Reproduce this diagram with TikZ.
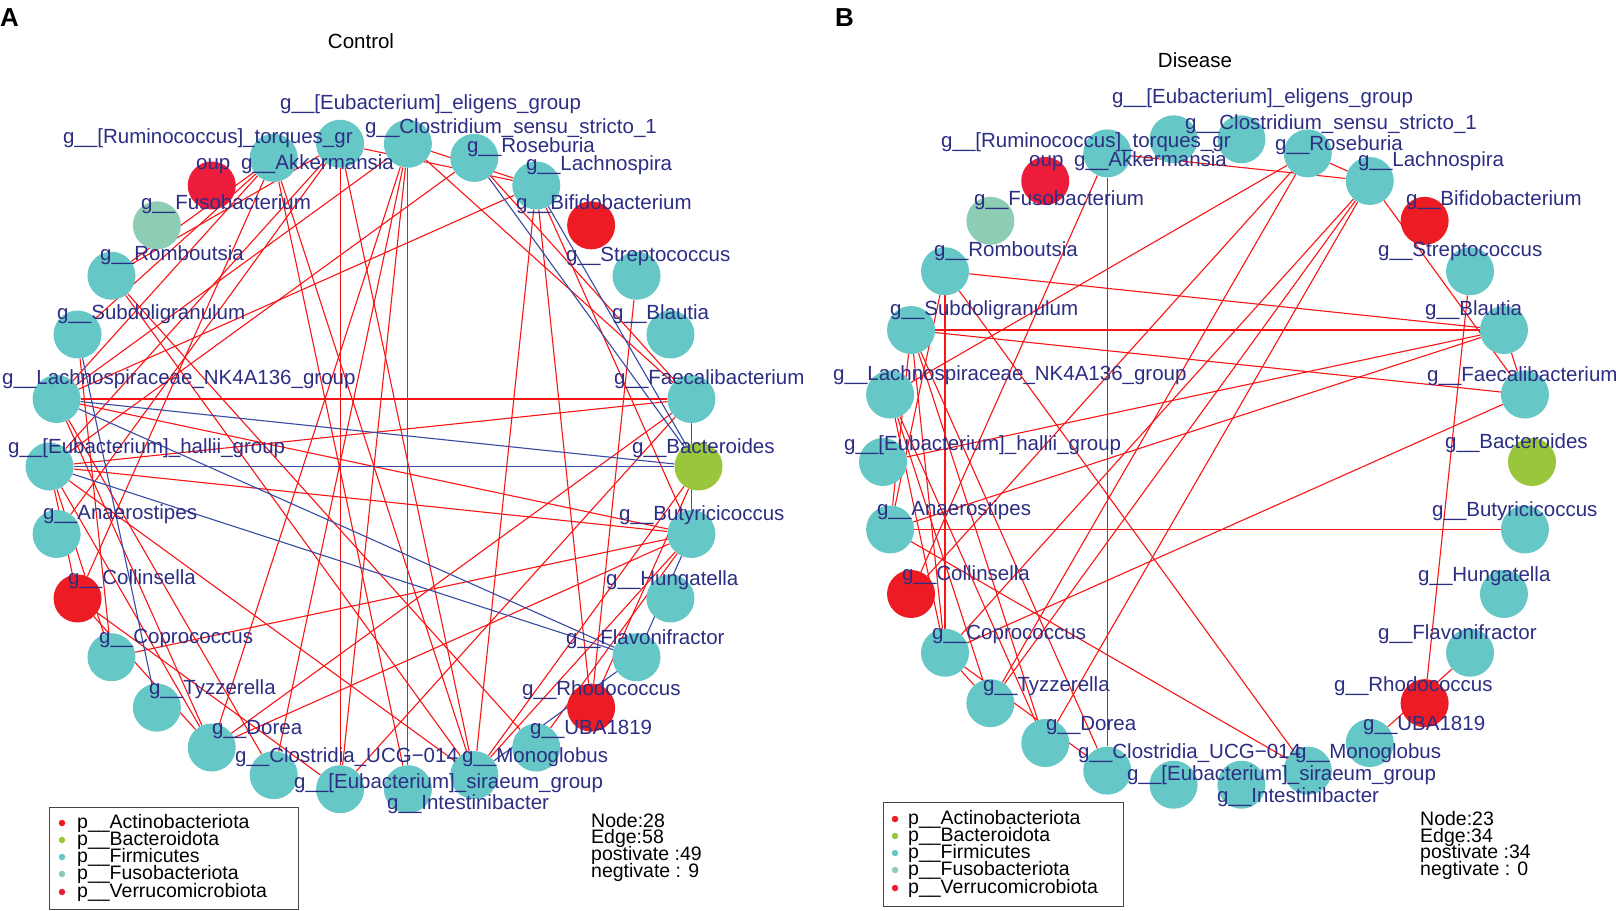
\documentclass[tikz,border=0pt]{standalone}
\usepackage{fontspec}
\setmainfont{Liberation Sans}
\pgfdeclarelayer{bglayer}
\pgfdeclarelayer{edgelayer}
\pgfsetlayers{bglayer,edgelayer,main}
\definecolor{firm}{RGB}{102,199,199}
\definecolor{actino}{RGB}{237,28,36}
\definecolor{verru}{RGB}{236,28,58}
\definecolor{fuso}{RGB}{140,205,180}
\definecolor{bact}{RGB}{153,198,60}
\definecolor{labc}{RGB}{44,46,131}
\definecolor{posc}{RGB}{250,20,20}
\definecolor{negc}{RGB}{55,75,165}
\definecolor{boxc}{RGB}{70,70,70}
\begin{document}
\begin{tikzpicture}[x=1pt,y=-1pt,
  gnode/.style={circle,minimum size=48pt,inner sep=0pt,draw=none},
  lab/.style={text=labc,font=\fontsize{20.5}{24}\selectfont,inner sep=0pt,anchor=base west},
  posedge/.style={draw=posc,line width=1.1pt},
  negedge/.style={draw=negc,line width=1.1pt},
  legtxt/.style={text=black,font=\fontsize{19.5}{20}\selectfont,inner sep=0pt,anchor=base west},
  ldot/.style={circle,minimum size=6.5pt,inner sep=0pt},
  legbox/.style={draw=boxc,line width=1pt}
]
\useasboundingbox (0,0) rectangle (1616,910);
\begin{pgfonlayer}{bglayer}
\fill[white] (0,0) rectangle (1616,910);
\end{pgfonlayer}

% ---------- nodes ----------
\foreach \k/\c in {0/bact,1/firm,2/firm,3/firm,4/actino,5/firm,6/firm,7/firm,8/firm,9/firm,10/verru,11/fuso,12/firm,13/firm,14/firm,15/firm,16/firm,17/actino,18/firm,19/firm,20/firm,21/firm,22/firm,23/firm,24/firm,25/firm,26/actino,27/firm,28/firm,29/firm}{
  \node[gnode,fill=\c] (a\k) at ({374+324.5*cos(12*\k)},{466.5-324.5*sin(12*\k)}) {};
  \node[gnode,fill=\c] (b\k) at ({1207.5+324.5*cos(12*\k)},{462-324.5*sin(12*\k)}) {};
}

% ---------- edges ----------
\begin{pgfonlayer}{edgelayer}
\foreach \i/\j in {14/1,15/1,14/29,15/29,1/20,29/20,29/18,29/24,7/23,7/21,7/1,6/1,5/14,5/24,3/26,1/29,9/12,9/14,8/15,8/16,7/14,7/22,9/23,14/20,14/21,15/20,15/18,13/18,17/9,12/24,12/25,15/24,17/20,17/22,29/25,8/24,9/24,1/22,0/24,5/29,12/8,9/13,7/20,15/17,8/22,0/26,8/5,7/5,15/6,5/26}
  \draw[posedge] (a\i) -- (a\j);
\foreach \i/\j in {6/0,5/0,14/0,15/0,14/27,15/27,13/19,29/27,24/27}
  \draw[negedge] (a\i) -- (a\j);
\foreach \i/\j in {9/21,16/29,12/18,15/2,16/2,18/1,6/14,6/17,6/19,5/20,5/1,2/1,3/26,13/1,13/2,12/2,12/24,16/24,25/27,13/18,13/20,13/21,14/19,14/20,18/5,9/5,6/5,9/17,18/21,18/19,12/16,13/16,14/18,5/19}
  \draw[posedge] (b\i) -- (b\j);
\end{pgfonlayer}

% ---------- labels panel A ----------
\node[lab] (la0) at (632,453) {g\_\_Bacteroides};
\node[lab] (la1) at (614,384) {g\_\_Faecalibacterium};
\node[lab] (la2) at (612,319) {g\_\_Blautia};
\node[lab] (la3) at (566,261) {g\_\_Streptococcus};
\node[lab] (la4) at (516,209) {g\_\_Bifidobacterium};
\node[lab] (la5) at (526,170) {g\_\_Lachnospira};
\node[lab] (la6) at (467,152) {g\_\_Roseburia};
\node[lab] (la7) at (365,133) {g\_\_Clostridium\_sensu\_stricto\_1};
\node[lab] (la8) at (280,109) {g\_\_[Eubacterium]\_eligens\_group};
\node[lab] (la9) at (63,143) {g\_\_[Ruminococcus]\_torques\_gr};
\node[lab] (la9b) at (196,169) {oup};
\node[lab] (la10) at (241,169) {g\_\_Akkermansia};
\node[lab] (la11) at (141,209) {g\_\_Fusobacterium};
\node[lab] (la12) at (100,260) {g\_\_Romboutsia};
\node[lab] (la13) at (57,319) {g\_\_Subdoligranulum};
\node[lab] (la14) at (2,384) {g\_\_Lachnospiraceae\_NK4A136\_group};
\node[lab] (la15) at (8,453) {g\_\_[Eubacterium]\_hallii\_group};
\node[lab] (la16) at (43,519) {g\_\_Anaerostipes};
\node[lab] (la17) at (68,584) {g\_\_Collinsella};
\node[lab] (la18) at (99,643) {g\_\_Coprococcus};
\node[lab] (la19) at (149,694) {g\_\_Tyzzerella};
\node[lab] (la20) at (212,734) {g\_\_Dorea};
\node[lab] (la21) at (235,762) {g\_\_Clostridia\_UCG−014};
\node[lab] (la22) at (294,788) {g\_\_[Eubacterium]\_siraeum\_group};
\node[lab] (la23) at (387,809) {g\_\_Intestinibacter};
\node[lab] (la24) at (462,762) {g\_\_Monoglobus};
\node[lab] (la25) at (530,734) {g\_\_UBA1819};
\node[lab] (la26) at (522,695) {g\_\_Rhodococcus};
\node[lab] (la27) at (566,644) {g\_\_Flavonifractor};
\node[lab] (la28) at (606,585) {g\_\_Hungatella};
\node[lab] (la29) at (619,520) {g\_\_Butyricicoccus};

% ---------- labels panel B ----------
\node[lab] (lb0) at (1445,448) {g\_\_Bacteroides};
\node[lab] (lb1) at (1427,381) {g\_\_Faecalibacterium};
\node[lab] (lb2) at (1425,315) {g\_\_Blautia};
\node[lab] (lb3) at (1378,256) {g\_\_Streptococcus};
\node[lab] (lb4) at (1406,205) {g\_\_Bifidobacterium};
\node[lab] (lb5) at (1358,166) {g\_\_Lachnospira};
\node[lab] (lb6) at (1275,150) {g\_\_Roseburia};
\node[lab] (lb7) at (1185,129) {g\_\_Clostridium\_sensu\_stricto\_1};
\node[lab] (lb8) at (1112,103) {g\_\_[Eubacterium]\_eligens\_group};
\node[lab] (lb9) at (941,147) {g\_\_[Ruminococcus]\_torques\_gr};
\node[lab] (lb9b) at (1029,166) {oup};
\node[lab] (lb10) at (1074,166) {g\_\_Akkermansia};
\node[lab] (lb11) at (974,205) {g\_\_Fusobacterium};
\node[lab] (lb12) at (934,256) {g\_\_Romboutsia};
\node[lab] (lb13) at (890,315) {g\_\_Subdoligranulum};
\node[lab] (lb14) at (833,380) {g\_\_Lachnospiraceae\_NK4A136\_group};
\node[lab] (lb15) at (844,450) {g\_\_[Eubacterium]\_hallii\_group};
\node[lab] (lb16) at (877,515) {g\_\_Anaerostipes};
\node[lab] (lb17) at (902,580) {g\_\_Collinsella};
\node[lab] (lb18) at (932,639) {g\_\_Coprococcus};
\node[lab] (lb19) at (983,691) {g\_\_Tyzzerella};
\node[lab] (lb20) at (1046,730) {g\_\_Dorea};
\node[lab] (lb21) at (1078,758) {g\_\_Clostridia\_UCG−014};
\node[lab] (lb22) at (1127,780) {g\_\_[Eubacterium]\_siraeum\_group};
\node[lab] (lb23) at (1217,802) {g\_\_Intestinibacter};
\node[lab] (lb24) at (1295,758) {g\_\_Monoglobus};
\node[lab] (lb25) at (1363,730) {g\_\_UBA1819};
\node[lab] (lb26) at (1334,691) {g\_\_Rhodococcus};
\node[lab] (lb27) at (1378,639) {g\_\_Flavonifractor};
\node[lab] (lb28) at (1418,581) {g\_\_Hungatella};
\node[lab] (lb29) at (1432,516) {g\_\_Butyricicoccus};

% ---------- titles ----------
\node[font=\bfseries\fontsize{26}{26}\selectfont,inner sep=0pt,anchor=base west] (pA) at (0,26) {A};
\node[font=\bfseries\fontsize{26}{26}\selectfont,inner sep=0pt,anchor=base west] (pB) at (835,26) {B};
\node[font=\fontsize{20.5}{24}\selectfont,inner sep=0pt,anchor=base] (tiA) at (361,48) {Control};
\node[font=\fontsize{20.5}{24}\selectfont,inner sep=0pt,anchor=base] (tiB) at (1195,67) {Disease};

% ---------- legends ----------
\draw[legbox] (49,807) rectangle (298,909);
\foreach \y/\c/\t [count=\n] in {828/actino/Actinobacteriota,845/bact/Bacteroidota,862/firm/Firmicutes,879/fuso/Fusobacteriota,897/verru/Verrucomicrobiota}{
  \node[ldot,fill=\c] (dA\n) at (62,{\y-5}) {};
  \node[legtxt] (gA\n) at (77,\y) {p\_\_\t};
}
\draw[legbox] (883,802) rectangle (1123,906);
\foreach \y/\c/\t [count=\n] in {824/actino/Actinobacteriota,841/bact/Bacteroidota,858/firm/Firmicutes,875/fuso/Fusobacteriota,893/verru/Verrucomicrobiota}{
  \node[ldot,fill=\c] (dB\n) at (895,{\y-5}) {};
  \node[legtxt] (gB\n) at (908,\y) {p\_\_\t};
}

% ---------- statistics ----------
\node[legtxt] (sA1) at (591,827) {Node:28};
\node[legtxt] (sA2) at (591,843) {Edge:58};
\node[legtxt] (sA3) at (591,860) {postivate :49};
\node[legtxt] (sA4) at (591,877) {negtivate : 9};
\node[legtxt] (sB1) at (1420,825) {Node:23};
\node[legtxt] (sB2) at (1420,842) {Edge:34};
\node[legtxt] (sB3) at (1420,858) {postivate :34};
\node[legtxt] (sB4) at (1420,875) {negtivate : 0};
\end{tikzpicture}
\end{document}
